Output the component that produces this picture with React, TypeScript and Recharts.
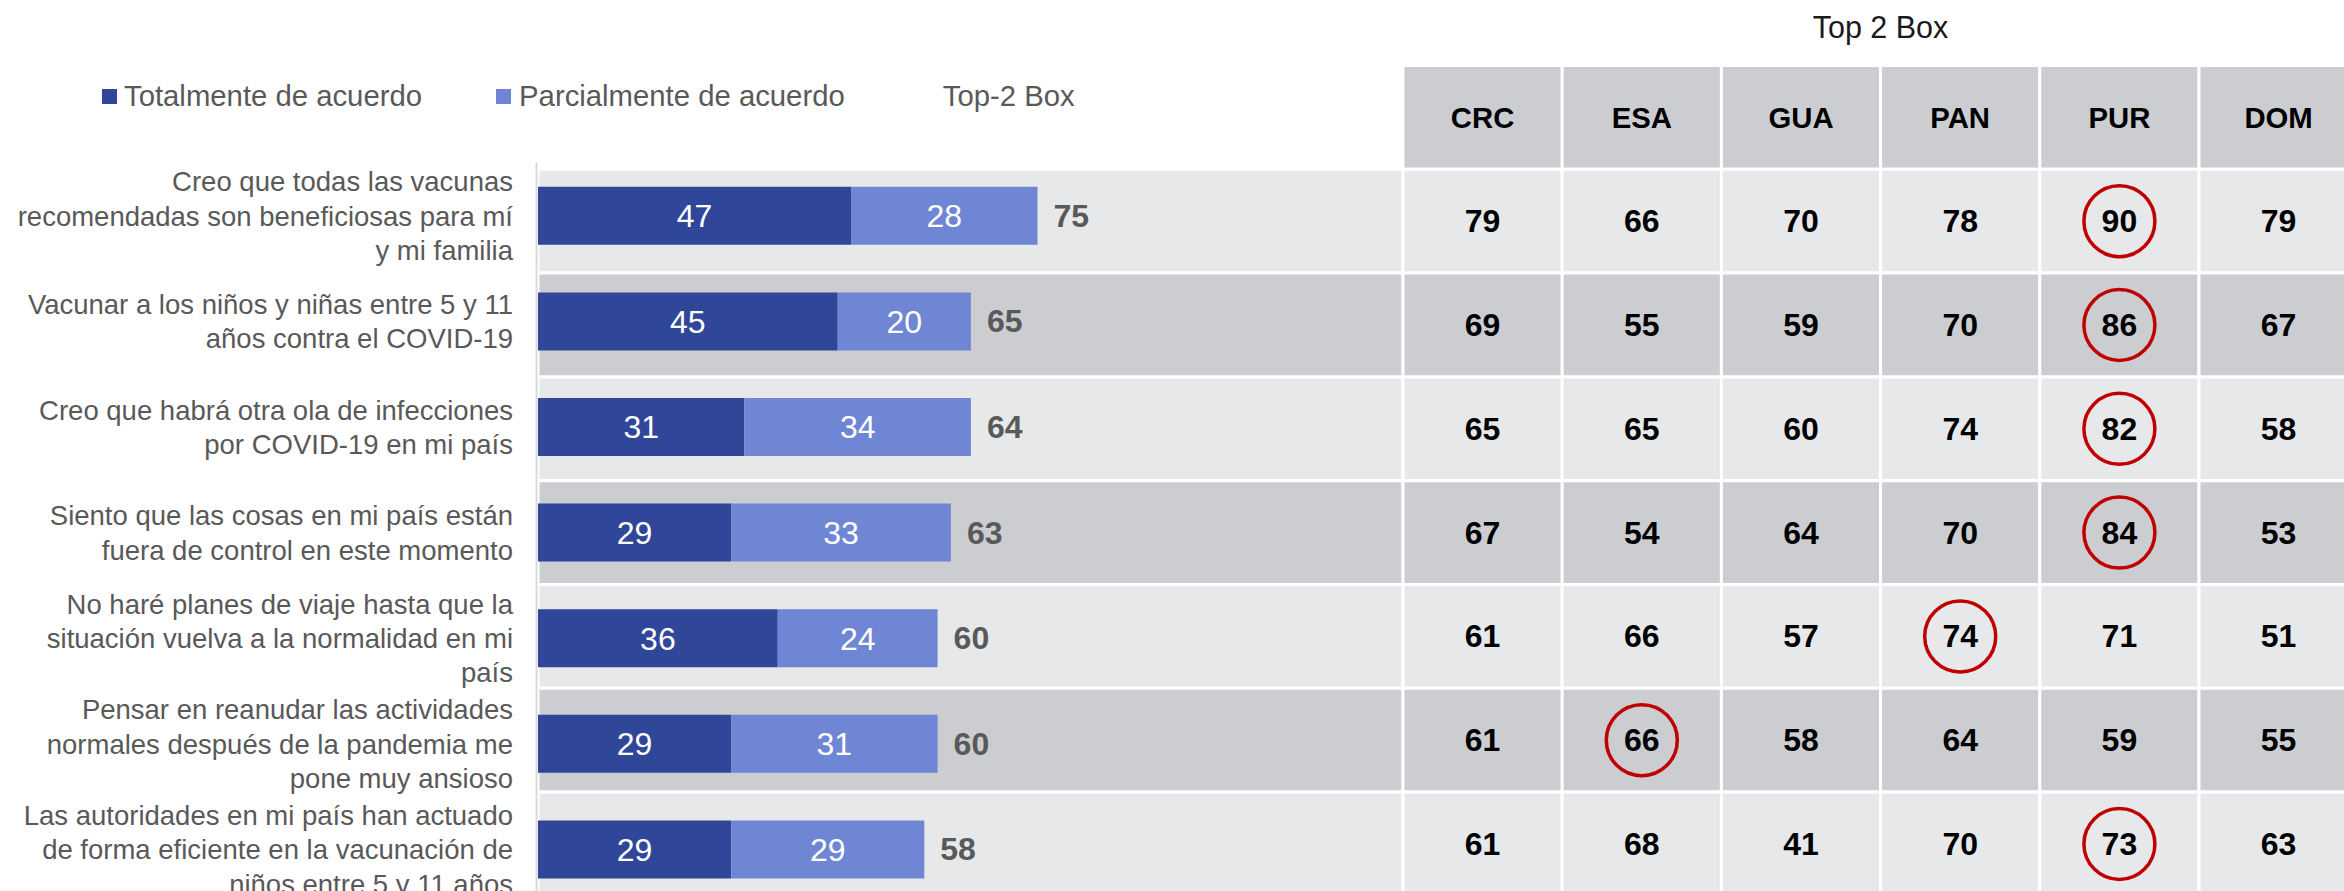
import React from "react";
import { ComposedChart, Bar, XAxis, YAxis, LabelList, ReferenceArea, Legend } from "recharts";

const HEADER = "header";
const statements = [
  "Creo que todas las vacunas\nrecomendadas son beneficiosas para mí\ny mi familia",
  "Vacunar a los niños y niñas entre 5 y 11\naños contra el COVID-19",
  "Creo que habrá otra ola de infecciones\npor COVID-19 en mi país",
  "Siento que las cosas en mi país están\nfuera de control en este momento",
  "No haré planes de viaje hasta que la\nsituación vuelva a la normalidad en mi\npaís",
  "Pensar en reanudar las actividades\nnormales después de la pandemia me\npone muy ansioso",
  "Las autoridades en mi país han actuado\nde forma eficiente en la vacunación de\nniños entre 5 y 11 años",
];
const totalmente = [47, 45, 31, 29, 36, 29, 29];
const parcialmente = [28, 20, 34, 33, 24, 31, 29];
const top2 = [75, 65, 64, 63, 60, 60, 58];

const countries = ["CRC", "ESA", "GUA", "PAN", "PUR", "DOM"];
const crc = [79, 69, 65, 67, 61, 61, 61];
const esa = [66, 55, 65, 54, 66, 66, 68];
const gua = [70, 59, 60, 64, 57, 58, 41];
const pan = [78, 70, 74, 70, 74, 64, 70];
const pur = [90, 86, 82, 84, 71, 59, 73];
const dom = [79, 67, 58, 53, 51, 55, 63];
const circled = ["PUR", "PUR", "PUR", "PUR", "PAN", "ESA", "PUR"];

const countryValues: Record<string, number[]> = { CRC: crc, ESA: esa, GUA: gua, PAN: pan, PUR: pur, DOM: dom };

// first row is the table header (no bars)
const data = [
  { statement: HEADER },
  ...statements.map((s, i) => ({
    statement: s,
    totalmente: totalmente[i],
    parcialmente: parcialmente[i],
    top2: top2[i],
  })),
];

// layout
const W = 2344;
const BAR_ROW = 105.6;
const BAR_TOP = 162.8;
const PLOT_TOP = BAR_TOP - BAR_ROW;
const H = BAR_TOP + 7 * BAR_ROW;
const PLOT_LEFT = 538;
const PLOT_W = W - PLOT_LEFT;
const TABLE_TOP = 65.5;
const ROW_H = 103.8;
const TABLE_X = 1403;
const COL_W = 159.2;
const PX_PER_UNIT = 6.66;

const colMin = -(TABLE_X - PLOT_LEFT) / COL_W;
const colMax = colMin + PLOT_W / COL_W;

const FONT = "'Liberation Sans', Arial, sans-serif";
const GREY = "#595959";
const DARK = "#2f4699";
const LIGHT = "#6f86d4";
const BAND_LIGHT = "#e7e8ea";
const BAND_DARK = "#cbcdd1";

const StatementTick = (props: any) => {
  const { y, payload } = props;
  if (payload.value === HEADER) return null;
  const lines = String(payload.value).split("\n");
  return (
    <g>
      <line x1={PLOT_LEFT - 1.5} x2={PLOT_LEFT - 1.5} y1={y - BAR_ROW / 2} y2={y + BAR_ROW / 2} stroke="#d9d9d9" strokeWidth={2} />
      <text textAnchor="end" fill={GREY} fontSize={27.5} fontFamily={FONT} dominantBaseline="central">
        {lines.map((l, i) => (
          <tspan key={i} x={513} y={y + (i - (lines.length - 1) / 2) * 34.4}>
            {l}
          </tspan>
        ))}
      </text>
    </g>
  );
};

const TotalLabel = (props: any) => {
  if (props.value == null) return null;
  const vb = props.viewBox ?? props;
  const { x, y, width, height } = vb;
  return (
    <text x={x + width + 16} y={y + height / 2} dominantBaseline="central" fill={GREY} fontWeight="bold" fontSize={32} fontFamily={FONT}>
      {props.value}
    </text>
  );
};

const cellLabel = (text: string | number, size: number, ring: boolean) => (props: any) => {
  const { x, y, width, height } = props.viewBox;
  const cx = x + width / 2;
  const cy = y + height / 2;
  return (
    <g>
      {ring && <circle cx={cx} cy={cy} r={35.5} fill="none" stroke="#c00000" strokeWidth={3.5} />}
      <text x={cx} y={cy} textAnchor="middle" dominantBaseline="central" fontWeight="bold" fontSize={size} fontFamily={FONT} fill="#000">
        {text}
      </text>
    </g>
  );
};

const LegendContent = () => (
  <div style={{ display: "flex", alignItems: "center", fontFamily: FONT, fontSize: 29.3, color: GREY, whiteSpace: "nowrap" }}>
    <span style={{ width: 15, height: 15, background: DARK, marginRight: 7 }} />
    <span>Totalmente de acuerdo</span>
    <span style={{ width: 15, height: 15, background: LIGHT, marginLeft: 74, marginRight: 8 }} />
    <span>Parcialmente de acuerdo</span>
    <span style={{ marginLeft: 98 }}>Top-2 Box</span>
  </div>
);

const cellProps = { xAxisId: "cols", yAxisId: "rows", fillOpacity: 1, stroke: "#fff", strokeWidth: 3, ifOverflow: "hidden" as const };

export default function App() {
  return (
    <div style={{ position: "absolute", top: 0, left: 0, width: W, height: 891, overflow: "hidden", background: "#fff" }}>
      <div style={{ position: "absolute", left: TABLE_X, width: 955, top: 12, textAlign: "center", fontFamily: FONT, fontSize: 30.5, lineHeight: 1, color: "#1a1a1a" }}>
        Top 2 Box
      </div>
      <ComposedChart width={W} height={H} data={data} layout="vertical" margin={{ top: PLOT_TOP, right: 0, bottom: 0, left: 0 }}>
        <XAxis type="number" xAxisId="bars" domain={[0, PLOT_W / PX_PER_UNIT]} allowDataOverflow hide />
        <XAxis type="number" xAxisId="cols" domain={[colMin, colMax]} allowDataOverflow hide />
        <YAxis
          yAxisId="bars"
          type="category"
          dataKey="statement"
          width={PLOT_LEFT}
          axisLine={false}
          tickLine={false}
          interval={0}
          tick={<StatementTick />}
        />
        <YAxis
          yAxisId="rows"
          type="category"
          dataKey="statement"
          hide
          padding={{ top: TABLE_TOP - PLOT_TOP, bottom: H - TABLE_TOP - 8 * ROW_H }}
        />
        <Legend layout="horizontal" verticalAlign="middle" align="center" content={<LegendContent />} wrapperStyle={{ top: 79, left: 102, width: 1100 }} />

        {statements.map((s, r) => (
          <ReferenceArea key={`band-${r}`} {...cellProps} x1={colMin} x2={0} y1={s} y2={s} fill={r % 2 === 0 ? BAND_LIGHT : BAND_DARK} />
        ))}
        {countries.map((c, ci) => (
          <ReferenceArea key={`head-${c}`} {...cellProps} x1={ci} x2={ci + 1} y1={HEADER} y2={HEADER} fill={BAND_DARK} label={cellLabel(c, 29.3, false)} />
        ))}
        {statements.map((s, r) =>
          countries.map((c, ci) => (
            <ReferenceArea
              key={`cell-${r}-${c}`}
              {...cellProps}
              x1={ci}
              x2={ci + 1}
              y1={s}
              y2={s}
              fill={r % 2 === 0 ? BAND_LIGHT : BAND_DARK}
              label={cellLabel(countryValues[c][r], 32, circled[r] === c)}
            />
          ))
        )}

        <Bar dataKey="totalmente" stackId="a" xAxisId="bars" yAxisId="bars" fill={DARK} barSize={58} isAnimationActive={false}>
          <LabelList dataKey="totalmente" position="center" fill="#fff" fontSize={32} fontFamily={FONT} />
        </Bar>
        <Bar dataKey="parcialmente" stackId="a" xAxisId="bars" yAxisId="bars" fill={LIGHT} barSize={58} isAnimationActive={false}>
          <LabelList dataKey="parcialmente" position="center" fill="#fff" fontSize={32} fontFamily={FONT} />
          <LabelList dataKey="top2" content={<TotalLabel />} />
        </Bar>
      </ComposedChart>
    </div>
  );
}
